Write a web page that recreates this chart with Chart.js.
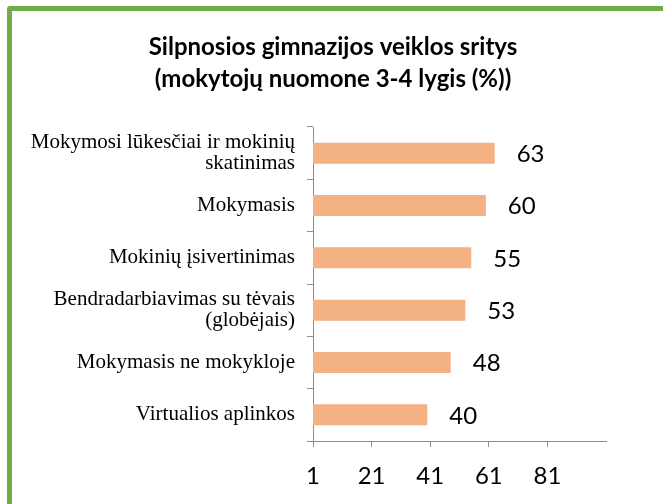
<!DOCTYPE html>
<html>
<head>
<meta charset="utf-8">
<script src="https://cdn.jsdelivr.net/npm/chart.js@4"></script>
<style>
  html, body { margin: 0; padding: 0; background: #fff; }
  #wrap { position: relative; width: 663px; height: 504px; overflow: hidden; }
  #frame {
    position: absolute; left: 7px; top: 6px; width: 720px; height: 560px;
    border: 5px solid #70AD47; border-radius: 3px; box-sizing: border-box;
    pointer-events: none;
  }
</style>
</head>
<body>
<div id="wrap">
  <canvas id="chart" width="663" height="504"></canvas>
  <div id="frame"></div>
</div>
<script>
// Chart data
const categories = [
  ['Mokymosi lūkesčiai ir mokinių', 'skatinimas'],
  'Mokymasis',
  'Mokinių įsivertinimas',
  ['Bendradarbiavimas su tėvais', '(globėjais)'],
  'Mokymasis ne mokykloje',
  'Virtualios aplinkos'
];
const values = [63, 60, 55, 53, 48, 40];
const titleLines = ['Silpnosios gimnazijos veiklos sritys', '(mokytojų nuomone 3-4 lygis (%))'];
const axisMin = 1, axisMax = 101, axisStep = 20;

// value labels to the right of each bar
const barLabels = {
  id: 'barLabels',
  afterDatasetsDraw(chart) {
    const ctx = chart.ctx;
    const meta = chart.getDatasetMeta(0);
    ctx.save();
    ctx.font = '24px Lato';
    ctx.fillStyle = '#000';
    ctx.textAlign = 'left';
    ctx.textBaseline = 'middle';
    meta.data.forEach((bar, i) => {
      ctx.fillText(String(values[i]), bar.x + 22, bar.y + 1);
    });
    ctx.restore();
  }
};

// title centred on the frame, not on the padded chart box
const frameTitle = {
  id: 'frameTitle',
  afterDraw(chart) {
    const ctx = chart.ctx;
    ctx.save();
    ctx.font = 'bold 24px Lato';
    ctx.fillStyle = '#000';
    ctx.textAlign = 'center';
    ctx.textBaseline = 'middle';
    titleLines.forEach((line, i) => ctx.fillText(line, 333, 47 + i * 32));
    ctx.restore();
  }
};

new Chart(document.getElementById('chart'), {
  type: 'bar',
  data: {
    labels: categories,
    datasets: [{
      data: values,
      backgroundColor: '#F4B183',
      barPercentage: 0.4,
      categoryPercentage: 1
    }]
  },
  options: {
    indexAxis: 'y',
    responsive: false,
    animation: false,
    layout: { padding: { left: 0, right: 57, top: 127, bottom: 0 } },
    plugins: {
      legend: { display: false },
      tooltip: { enabled: false },
      title: { display: false }
    },
    scales: {
      x: {
        min: axisMin,
        max: axisMax,
        afterBuildTicks(scale) {
          scale.ticks = scale.ticks.filter(t => t.value < axisMax);
        },
        afterFit(scale) { scale.height = 63; },
        ticks: {
          stepSize: axisStep,
          color: '#000',
          font: { family: 'Lato', size: 24 },
          padding: 15,
          maxRotation: 0
        },
        grid: { drawOnChartArea: false, drawTicks: true, tickLength: 6, color: '#8c8c8c' },
        border: { display: true, color: '#8c8c8c' }
      },
      y: {
        afterFit(scale) { scale.width = 313; },
        ticks: {
          color: '#000',
          font: { family: 'Liberation Serif', size: 21, lineHeight: 1.0 },
          padding: 12
        },
        grid: { drawOnChartArea: false, drawTicks: true, tickLength: 6, color: '#8c8c8c' },
        border: { display: true, color: '#8c8c8c' }
      }
    }
  },
  plugins: [barLabels, frameTitle]
});
</script>
</body>
</html>
